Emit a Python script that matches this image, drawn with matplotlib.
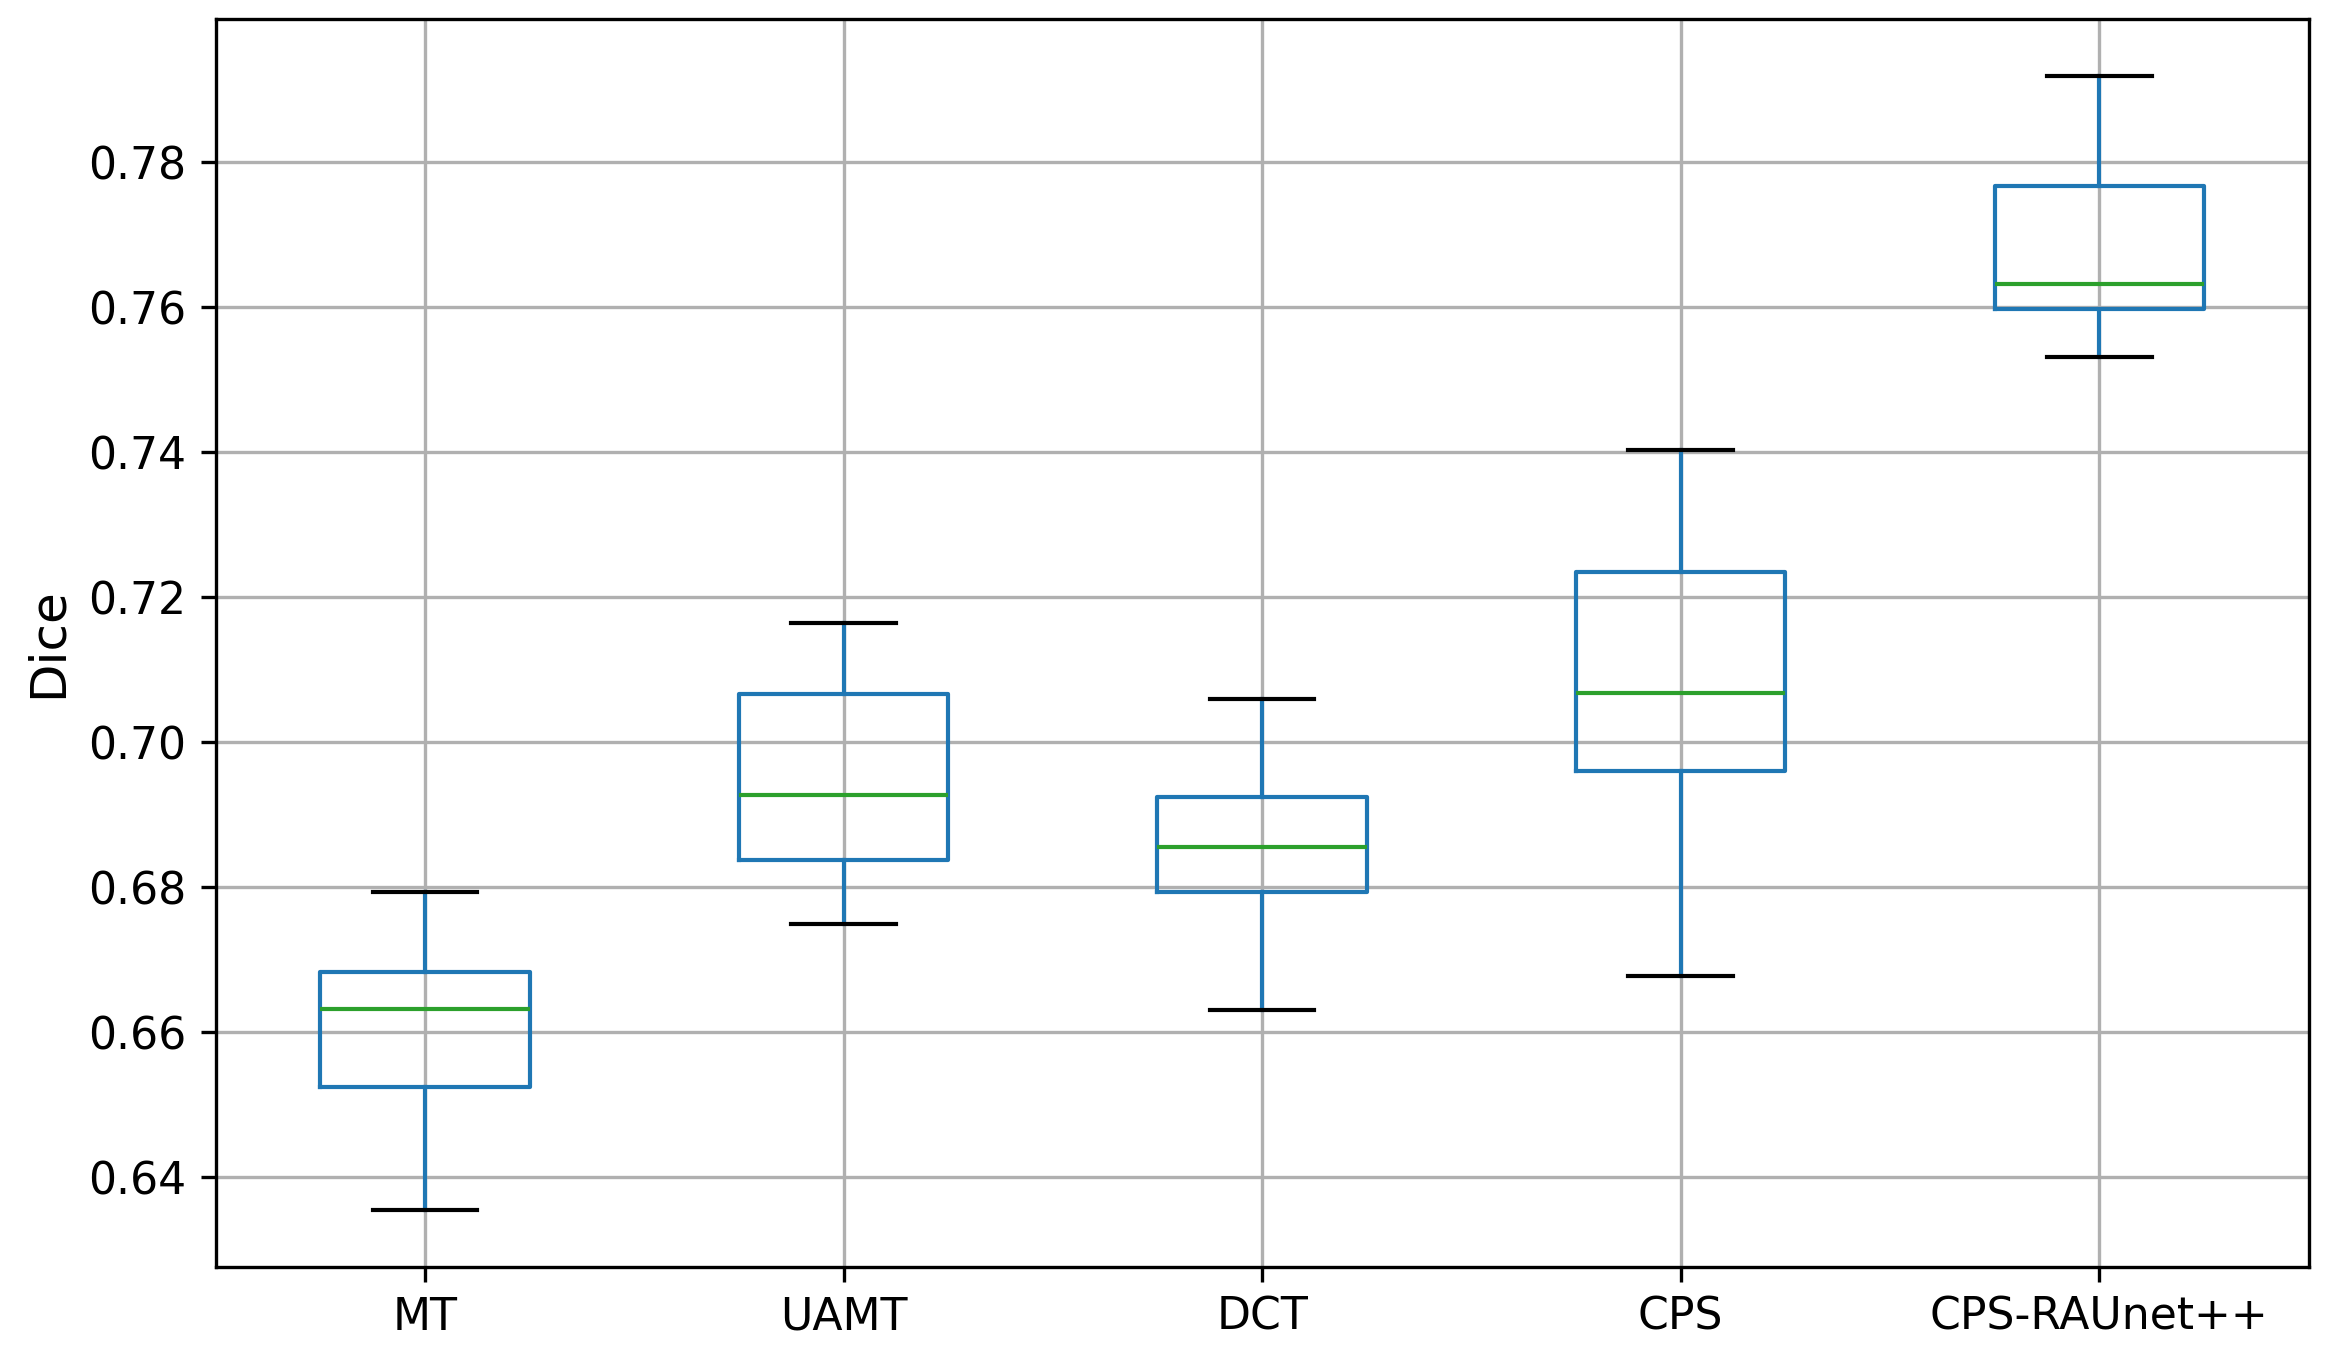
import pandas as pd
import matplotlib
matplotlib.use("Agg")
import matplotlib.pyplot as plt

# five-number summaries: min, q1, median, q3, max
methods = ["MT", "UAMT", "DCT", "CPS", "CPS-RAUnet++"]
mt = [0.6355, 0.6524, 0.6632, 0.6683, 0.6793]
uamt = [0.6749, 0.6837, 0.6927, 0.7066, 0.7164]
dct = [0.6631, 0.6794, 0.6855, 0.6925, 0.7059]
cps = [0.6678, 0.6961, 0.7068, 0.7235, 0.7403]
raunet = [0.7532, 0.7598, 0.7632, 0.7767, 0.7919]

df = pd.DataFrame(dict(zip(methods, [mt, uamt, dct, cps, raunet])))

fig = plt.figure(figsize=(2331 / 300, 1353 / 300), dpi=300)
ax = fig.add_axes([0.0925, 0.0639, 0.9904 - 0.0925, 0.9857 - 0.0639])

df.boxplot(ax=ax, grid=True, fontsize=10.6)
ax.set_ylabel("Dice", fontsize=12)

fig.savefig("out.png", dpi=300)
